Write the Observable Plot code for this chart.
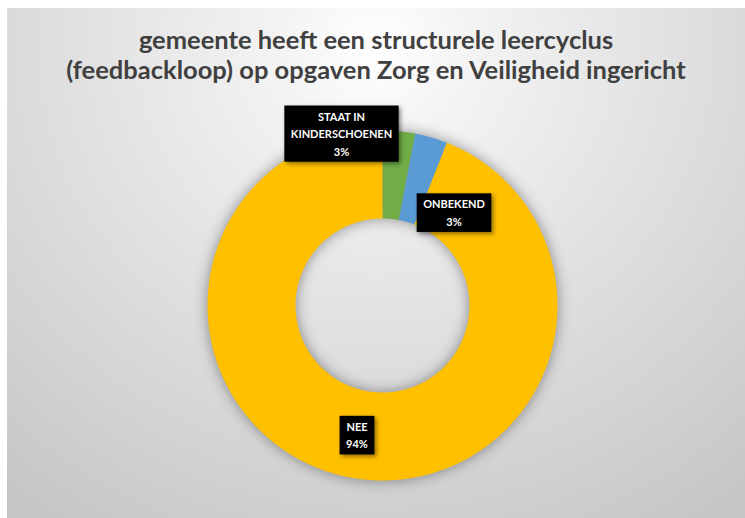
<!DOCTYPE html>
<html><head><meta charset="utf-8">
<script src="https://cdn.jsdelivr.net/npm/d3@7"></script>
<script src="https://cdn.jsdelivr.net/npm/@observablehq/plot@0.6"></script>
<style>
body{margin:0;background:#fff;}
#chart{position:absolute;left:7px;top:8px;width:738px;height:510px;overflow:hidden;
  background:radial-gradient(ellipse 80% 110% at 50% 8%, #ffffff 0%, #f4f4f4 15%, #c6c6c6 100%);}
#title{height:100px;box-sizing:border-box;padding-top:16px;text-align:center;
  font-family:Lato,"Open Sans",sans-serif;font-weight:bold;font-size:25.5px;line-height:30px;color:#404040;}
#chart svg{display:block;overflow:visible;}
</style></head><body>
<div id="chart"><div id="title">gemeente heeft een structurele leercyclus<br>(feedbackloop) op opgaven Zorg en Veiligheid ingericht</div></div>
<script>
// ---- data ----
const categories = ["STAAT IN KINDERSCHOENEN", "ONBEKEND", "NEE"];
const labelLines = ["STAAT IN\nKINDERSCHOENEN", "ONBEKEND", "NEE"];
const values = [3, 3, 94];
const colors = ["#70AD47", "#5B9BD5", "#FFC000"];

// ---- layout ----
const W = 738, H = 410, cx = 375, cy = 197, R = 175, r = 87;
const labelOffsets = [[-41, -173], [71.5, -94], [-25.5, 128.5]];

const total = d3.sum(values);
let acc = 0;
const pts = [];
categories.forEach((c, i) => {
  const a0 = acc / total * 2 * Math.PI; acc += values[i];
  const a1 = acc / total * 2 * Math.PI;
  const n = Math.max(2, Math.ceil((a1 - a0) / (Math.PI / 360)));
  for (let k = 0; k <= n; k++) { const a = a0 + (a1 - a0) * k / n; pts.push({cat: c, x: cx + R * Math.sin(a), y: cy - R * Math.cos(a)}); }
  for (let k = n; k >= 0; k--) { const a = a0 + (a1 - a0) * k / n; pts.push({cat: c, x: cx + r * Math.sin(a), y: cy - r * Math.cos(a)}); }
});
const labels = categories.map((c, i) => ({
  text: labelLines[i] + "\n" + Math.round(values[i] / total * 100) + "%",
  x: cx + labelOffsets[i][0], y: cy + labelOffsets[i][1]
}));

const svg = Plot.plot({
  width: W, height: H, margin: 0,
  x: {domain: [0, W], range: [0, W], axis: null},
  y: {domain: [0, H], range: [0, H], axis: null},
  color: {domain: categories, range: colors},
  style: {background: "transparent", overflow: "visible"},
  marks: [
    Plot.line(pts, {x: "x", y: "y", z: "cat", fill: "cat", stroke: "none", curve: "linear"}),
    Plot.text(labels, {x: "x", y: "y", text: "text", fill: "white", fontSize: 11, fontWeight: "bold",
      fontFamily: "Lato", lineHeight: 1.6, lineAnchor: "middle", textAnchor: "middle"})
  ]
});
document.getElementById("chart").appendChild(svg);

const lg = svg.querySelector('g[aria-label="line"]');
if (lg) lg.setAttribute("style", "filter: drop-shadow(0px 0px 7px rgba(0,0,0,0.4));");
const tg = svg.querySelector('g[aria-label="text"]');
tg.querySelectorAll("text").forEach(t => {
  const b = t.getBBox();
  const rect = document.createElementNS("http://www.w3.org/2000/svg", "rect");
  rect.setAttribute("x", b.x - 6.5);
  rect.setAttribute("y", b.y - 4);
  rect.setAttribute("width", b.width + 13);
  rect.setAttribute("height", b.height + 8);
  rect.setAttribute("fill", "#000");
  rect.setAttribute("style", "filter: drop-shadow(2px 2px 2px rgba(0,0,0,0.45));");
  if (t.getAttribute("transform")) rect.setAttribute("transform", t.getAttribute("transform"));
  tg.insertBefore(rect, t);
});
</script>
</body></html>
